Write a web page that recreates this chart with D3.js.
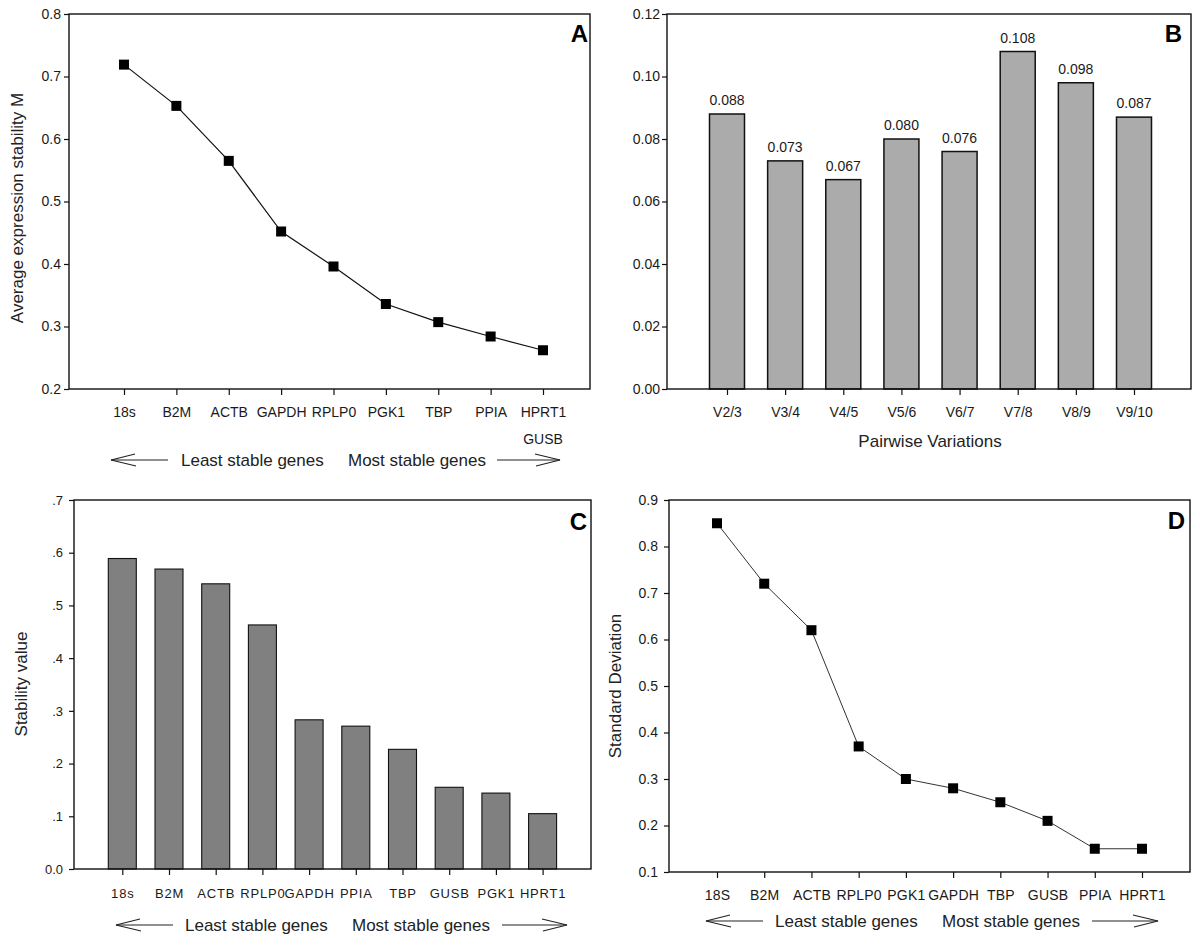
<!DOCTYPE html>
<html>
<head>
<meta charset="utf-8">
<script src="https://cdn.jsdelivr.net/npm/d3@7"></script>
<style>
  html, body { margin: 0; padding: 0; background: #fff; }
  svg { display: block; font-family: "Liberation Sans", Arial, sans-serif; }
  .tick text { fill: #1a1a1a; }
</style>
</head>
<body>
<svg id="chart" width="1200" height="950"></svg>
<script>
// ---------------- DATA ----------------
const genesA = ["18s", "B2M", "ACTB", "GAPDH", "RPLP0", "PGK1", "TBP", "PPIA", "HPRT1"];
const valuesA = [0.719, 0.653, 0.565, 0.452, 0.396, 0.336, 0.307, 0.284, 0.262];
const ticksA = [0.2, 0.3, 0.4, 0.5, 0.6, 0.7, 0.8];

const pairsB = ["V2/3", "V3/4", "V4/5", "V5/6", "V6/7", "V7/8", "V8/9", "V9/10"];
const valuesB = [0.088, 0.073, 0.067, 0.080, 0.076, 0.108, 0.098, 0.087];
const labelsB = ["0.088", "0.073", "0.067", "0.080", "0.076", "0.108", "0.098", "0.087"];
const ticksB = [0.00, 0.02, 0.04, 0.06, 0.08, 0.10, 0.12];

const genesC = ["18s", "B2M", "ACTB", "RPLP0", "GAPDH", "PPIA", "TBP", "GUSB", "PGK1", "HPRT1"];
const valuesC = [0.589, 0.569, 0.541, 0.463, 0.283, 0.271, 0.227, 0.155, 0.144, 0.105];
const ticksC = [0.0, 0.1, 0.2, 0.3, 0.4, 0.5, 0.6, 0.7];
const tickLabelsC = ["0.0", ".1", ".2", ".3", ".4", ".5", ".6", ".7"];

const genesD = ["18S", "B2M", "ACTB", "RPLP0", "PGK1", "GAPDH", "TBP", "GUSB", "PPIA", "HPRT1"];
const valuesD = [0.85, 0.72, 0.62, 0.37, 0.30, 0.28, 0.25, 0.21, 0.15, 0.15];
const ticksD = [0.1, 0.2, 0.3, 0.4, 0.5, 0.6, 0.7, 0.8, 0.9];

// ---------------- DRAW ----------------
const svg = d3.select("#chart");
const FONT = '"Liberation Sans", Arial, sans-serif';

function frame(g, x0, x1, y0, y1) {
  g.append("rect").attr("x", x0).attr("y", y0).attr("width", x1 - x0).attr("height", y1 - y0)
    .attr("fill", "none").attr("stroke", "#111").attr("stroke-width", 1.4);
}

function yAxis(g, scale, x0, tickVals, fmt, pad, size) {
  const ax = d3.axisLeft(scale).tickValues(tickVals).tickFormat(fmt).tickSize(5).tickPadding(pad);
  const a = g.append("g").attr("transform", `translate(${x0},0)`).call(ax);
  a.select(".domain").remove();
  a.selectAll(".tick line").attr("stroke", "#111").attr("stroke-width", 1.2);
  a.selectAll(".tick text").attr("font-size", size).attr("font-family", FONT);
}

function xAxis(g, scale, y1, labelDy, size, spacing) {
  const ax = d3.axisBottom(scale).tickSize(6).tickPadding(labelDy);
  const a = g.append("g").attr("transform", `translate(0,${y1})`).call(ax);
  a.select(".domain").remove();
  a.selectAll(".tick line").attr("stroke", "#111").attr("stroke-width", 1.2);
  a.selectAll(".tick text").attr("font-size", size).attr("font-family", FONT)
    .attr("letter-spacing", spacing);
}

function letter(g, txt, x, y) {
  g.append("text").attr("x", x).attr("y", y).attr("text-anchor", "end")
    .attr("font-size", 24).attr("font-weight", "bold").attr("font-family", FONT)
    .attr("fill", "#000").text(txt);
}

function yTitle(g, txt, x, y) {
  g.append("text").attr("transform", `translate(${x},${y}) rotate(-90)`)
    .attr("text-anchor", "middle").attr("font-size", 17).attr("font-family", FONT)
    .attr("fill", "#222").text(txt);
}

function arrows(g, y, base, lTip, lEnd, t1, t2, rStart, rTip) {
  const s = { stroke: "#222", "stroke-width": 1.2, fill: "none" };
  const p = (d) => { const e = g.append("path").attr("d", d); Object.entries(s).forEach(([k, v]) => e.attr(k, v)); };
  p(`M${lTip},${y}L${lEnd},${y}`);
  p(`M${lTip + 24},${y - 6}L${lTip},${y}L${lTip + 25},${y + 6}`);
  p(`M${rStart},${y}L${rTip},${y}`);
  p(`M${rTip - 25},${y - 6}L${rTip},${y}L${rTip - 24},${y + 6}`);
  g.append("text").attr("x", t1).attr("y", base).attr("font-size", 17).attr("font-family", FONT)
    .attr("fill", "#222").text("Least stable genes");
  g.append("text").attr("x", t2).attr("y", base).attr("font-size", 17).attr("font-family", FONT)
    .attr("fill", "#222").text("Most stable genes");
}

function squares(g, data, x, y) {
  g.selectAll("rect.pt").data(data).join("rect").attr("class", "pt")
    .attr("x", d => x(d.k) - 5).attr("y", d => y(d.v) - 5)
    .attr("width", 10).attr("height", 10).attr("fill", "#000");
}

// ---------- Panel A ----------
{
  const g = svg.append("g");
  const X0 = 69, X1 = 590, Y0 = 14, Y1 = 389;
  const y = d3.scaleLinear().domain([0.2, 0.8]).range([Y1, Y0]);
  const x = d3.scalePoint().domain(genesA).range([124, 543]);
  const data = genesA.map((k, i) => ({ k, v: valuesA[i] }));
  g.append("path").datum(data)
    .attr("d", d3.line().x(d => x(d.k)).y(d => y(d.v)))
    .attr("fill", "none").attr("stroke", "#111").attr("stroke-width", 1.2);
  squares(g, data, x, y);
  frame(g, X0, X1, Y0, Y1);
  yAxis(g, y, X0, ticksA, d3.format(".1f"), 3, 14);
  xAxis(g, x, Y1, 12, 14, 0);
  g.append("text").attr("x", x("HPRT1")).attr("y", 444).attr("text-anchor", "middle")
    .attr("font-size", 14).attr("font-family", FONT).attr("fill", "#1a1a1a").text("GUSB");
  yTitle(g, "Average expression stability M", 23, 208);
  letter(g, "A", 588, 42);
  arrows(g, 460, 466, 111, 168, 181, 348, 497, 560);
}

// ---------- Panel B ----------
{
  const g = svg.append("g");
  const X0 = 667, X1 = 1191, Y0 = 14, Y1 = 389;
  const y = d3.scaleLinear().domain([0, 0.12]).range([Y1, Y0]);
  const x = d3.scalePoint().domain(pairsB).range([727, 1134]);
  const bw = 35;
  g.selectAll("rect.bar").data(pairsB).join("rect").attr("class", "bar")
    .attr("x", d => x(d) - bw / 2).attr("y", (d, i) => y(valuesB[i]))
    .attr("width", bw).attr("height", (d, i) => Y1 - y(valuesB[i]))
    .attr("fill", "#ababab").attr("stroke", "#111").attr("stroke-width", 1.5);
  g.selectAll("text.val").data(pairsB).join("text").attr("class", "val")
    .attr("x", d => x(d)).attr("y", (d, i) => y(valuesB[i]) - 9)
    .attr("text-anchor", "middle").attr("font-size", 14).attr("font-family", FONT)
    .attr("fill", "#1a1a1a").text((d, i) => labelsB[i]);
  frame(g, X0, X1, Y0, Y1);
  yAxis(g, y, X0, ticksB, d3.format(".2f"), 2, 14);
  xAxis(g, x, Y1, 12, 14, 0);
  g.append("text").attr("x", 930).attr("y", 447).attr("text-anchor", "middle")
    .attr("font-size", 17).attr("font-family", FONT).attr("fill", "#222").text("Pairwise Variations");
  letter(g, "B", 1182, 42);
}

// ---------- Panel C ----------
{
  const g = svg.append("g");
  const X0 = 74, X1 = 591, Y0 = 500, Y1 = 869;
  const y = d3.scaleLinear().domain([0, 0.7]).range([Y1, Y0]);
  const x = d3.scalePoint().domain(genesC).range([122.3, 542.6]);
  const bw = 28;
  g.selectAll("rect.bar").data(genesC).join("rect").attr("class", "bar")
    .attr("x", d => x(d) - bw / 2).attr("y", (d, i) => y(valuesC[i]))
    .attr("width", bw).attr("height", (d, i) => Y1 - y(valuesC[i]))
    .attr("fill", "#808080").attr("stroke", "#111").attr("stroke-width", 1.1);
  frame(g, X0, X1, Y0, Y1);
  yAxis(g, y, X0, ticksC, (d, i) => tickLabelsC[i], 6, 13);
  xAxis(g, x, Y1, 14, 13, 0.8);
  yTitle(g, "Stability value", 27, 684);
  letter(g, "C", 587, 530);
  arrows(g, 925, 931, 116, 173, 185, 352, 502, 567);
}

// ---------- Panel D ----------
{
  const g = svg.append("g");
  const X0 = 669, X1 = 1190, Y0 = 500, Y1 = 872;
  const y = d3.scaleLinear().domain([0.1, 0.9]).range([Y1, Y0]);
  const x = d3.scalePoint().domain(genesD).range([717, 1142]);
  const data = genesD.map((k, i) => ({ k, v: valuesD[i] }));
  g.append("path").datum(data)
    .attr("d", d3.line().x(d => x(d.k)).y(d => y(d.v)))
    .attr("fill", "none").attr("stroke", "#333").attr("stroke-width", 1);
  squares(g, data, x, y);
  frame(g, X0, X1, Y0, Y1);
  yAxis(g, y, X0, ticksD, d3.format(".1f"), 6, 14);
  xAxis(g, x, Y1, 12, 14, 0.2);
  yTitle(g, "Standard Deviation", 621, 686);
  letter(g, "D", 1185, 529);
  arrows(g, 921, 927, 706, 763, 775, 942, 1092, 1158);
}
</script>
</body>
</html>
